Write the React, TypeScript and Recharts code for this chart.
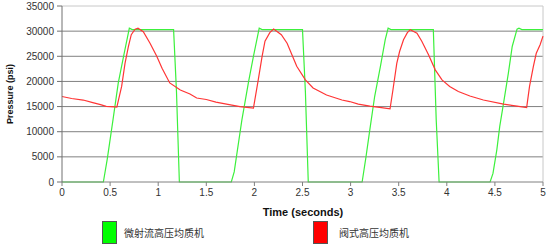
import React from 'react';
import { LineChart, Line, XAxis, YAxis, CartesianGrid, Legend, ReferenceLine, Label } from 'recharts';

// 微射流高压均质机 (green)
const greenTime = [0, 0.43, 0.47, 0.53, 0.585, 0.64, 0.7, 0.73, 1.16, 1.19, 1.22, 1.76, 1.79, 1.87, 1.94, 1.99, 2.05, 2.08, 2.5, 2.53, 2.56, 3.12, 3.16, 3.2, 3.25, 3.31, 3.36, 3.39, 3.42, 3.86, 3.89, 3.92, 4.45, 4.48, 4.52, 4.55, 4.59, 4.64, 4.68, 4.73, 4.75, 4.78, 5];
const greenPressure = [0, 0, 4500, 12350, 19700, 25000, 30600, 30300, 30300, 18000, 0, 0, 2000, 12350, 20000, 25000, 30600, 30300, 30300, 18000, 0, 0, 5000, 10400, 17000, 23000, 28300, 30600, 30300, 30300, 12350, 0, 0, 1700, 6400, 11000, 15700, 21650, 26950, 30400, 30600, 30300, 30300];

// 阀式高压均质机 (red)
const redTime = [0, 0.1, 0.22, 0.32, 0.4, 0.46, 0.55, 0.57, 0.62, 0.655, 0.69, 0.72, 0.76, 0.79, 0.845, 0.915, 0.985, 1.04, 1.12, 1.23, 1.33, 1.4, 1.5, 1.6, 1.71, 1.85, 1.99, 2.04, 2.08, 2.11, 2.16, 2.2, 2.28, 2.34, 2.39, 2.44, 2.53, 2.61, 2.75, 2.91, 2.99, 3.08, 3.2, 3.32, 3.41, 3.44, 3.48, 3.51, 3.55, 3.59, 3.62, 3.69, 3.74, 3.81, 3.88, 3.95, 4.03, 4.12, 4.24, 4.38, 4.59, 4.73, 4.83, 4.86, 4.9, 4.93, 4.97, 5];
const redPressure = [17000, 16600, 16300, 15800, 15400, 15050, 14950, 14900, 19000, 23600, 26900, 29300, 30400, 30600, 29900, 27600, 25000, 22600, 19700, 18300, 17500, 16700, 16400, 15900, 15500, 15000, 14700, 20300, 25000, 28000, 29700, 30400, 29300, 27600, 25300, 23000, 20300, 18700, 17300, 16300, 16000, 15500, 15100, 14800, 14550, 18300, 23600, 26000, 28300, 29700, 30300, 29600, 28000, 25300, 22300, 20300, 19000, 18000, 17100, 16300, 15500, 15100, 14800, 19000, 23000, 25600, 27300, 29000];

const seriesNames = ['微射流高压均质机', '阀式高压均质机'];
const seriesColors = ['#3cf03c', '#ff3535'];
const legendColors = ['#00ff00', '#ff0000'];

const xTicks = [0, 0.5, 1, 1.5, 2, 2.5, 3, 3.5, 4, 4.5, 5];
const yTicks = [0, 5000, 10000, 15000, 20000, 25000, 30000, 35000];
const gridValues = [5000, 10000, 15000, 20000, 25000, 30000];

const greenData = greenTime.map((t, i) => ({ t, p: greenPressure[i] }));
const redData = redTime.map((t, i) => ({ t, p: redPressure[i] }));

const font = '"Liberation Sans", Arial, sans-serif';
const tickStyle = { fontSize: 10, fill: '#333', fontFamily: font };

const legendLeft = [102, 313];
const textLeft = [124, 339];

const renderLegend = () => (
  <div style={{ position: 'relative', width: 550, height: 33 }}>
    {seriesNames.map((name, i) => (
      <React.Fragment key={name}>
        <div
          style={{
            position: 'absolute',
            left: legendLeft[i],
            top: 7,
            width: 13,
            height: 21,
            background: legendColors[i],
            border: '1px solid #555',
          }}
        />
        <span
          style={{
            position: 'absolute',
            left: textLeft[i],
            top: 13,
            fontSize: 10,
            lineHeight: '12px',
            color: '#333',
            fontFamily: '"Noto Sans CJK SC", sans-serif',
            whiteSpace: 'nowrap',
          }}
        >
          {name}
        </span>
      </React.Fragment>
    ))}
  </div>
);

export default function App() {
  return (
    <div style={{ position: 'absolute', left: 0, top: 0, width: 550, height: 247, background: '#fff' }}>
      <LineChart width={550} height={247} margin={{ top: 6, right: 7, left: 0, bottom: 0 }}>
        <CartesianGrid vertical={false} horizontalValues={gridValues} stroke="#808080" />
        <ReferenceLine y={35000} stroke="#c8c8c8" />
        <ReferenceLine x={5} stroke="#c8c8c8" />
        <XAxis
          dataKey="t"
          type="number"
          domain={[0, 5]}
          ticks={xTicks}
          interval={0}
          allowDuplicatedCategory={false}
          height={32}
          tickSize={4}
          tickMargin={3}
          stroke="#808080"
          tick={tickStyle}
        >
          <Label
            content={() => (
              <text x={303} y={216} textAnchor="middle" fontSize={11} fontWeight="bold" fontFamily={font} fill="#111">
                Time (seconds)
              </text>
            )}
          />
        </XAxis>
        <YAxis
          type="number"
          domain={[0, 35000]}
          ticks={yTicks}
          interval={0}
          width={62}
          tickSize={5}
          tickMargin={3}
          stroke="#707070"
          tick={tickStyle}
        >
          <Label
            content={() => (
              <text
                transform="translate(13,94) rotate(-90)"
                textAnchor="middle"
                fontSize={9}
                fontWeight="bold"
                fontFamily={font}
                fill="#111"
              >
                Pressure (psi)
              </text>
            )}
          />
        </YAxis>
        <Legend verticalAlign="bottom" height={33} wrapperStyle={{ left: 0, width: 550 }} content={renderLegend} />
        <Line
          data={greenData}
          dataKey="p"
          name={seriesNames[0]}
          type="linear"
          stroke={seriesColors[0]}
          strokeWidth={1.2}
          dot={false}
          isAnimationActive={false}
        />
        <Line
          data={redData}
          dataKey="p"
          name={seriesNames[1]}
          type="linear"
          stroke={seriesColors[1]}
          strokeWidth={1.2}
          dot={false}
          isAnimationActive={false}
        />
      </LineChart>
    </div>
  );
}
